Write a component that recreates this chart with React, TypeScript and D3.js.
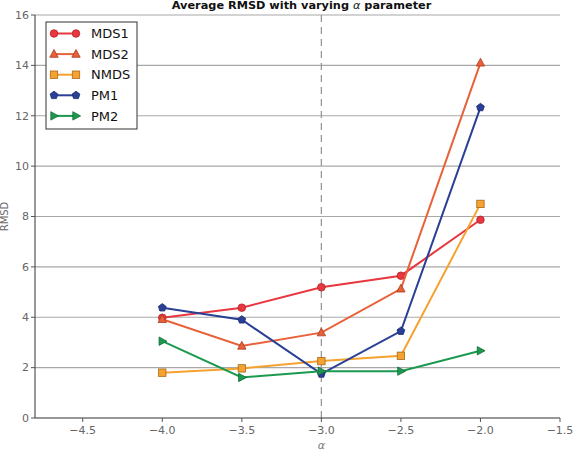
import React from "react";
import * as d3 from "d3";

const alphas = [-4.0, -3.5, -3.0, -2.5, -2.0];
const seriesNames = ["MDS1", "MDS2", "NMDS", "PM1", "PM2"];
const mds1 = [3.98, 4.38, 5.19, 5.65, 7.87];
const mds2 = [3.92, 2.86, 3.39, 5.13, 14.1];
const nmds = [1.8, 1.97, 2.26, 2.47, 8.5];
const pm1 = [4.38, 3.9, 1.75, 3.45, 12.33];
const pm2 = [3.05, 1.61, 1.86, 1.86, 2.67];
const xTicks = [-4.5, -4.0, -3.5, -3.0, -2.5, -2.0, -1.5];
const yTicks = [0, 2, 4, 6, 8, 10, 12, 14, 16];

const colors = ["#e8373f", "#e8613a", "#f5a231", "#2a3f96", "#1b9a4f"];
const edges = ["#b3222a", "#a83a1c", "#a8681a", "#1c2a6e", "#136b37"];
const markers = ["circle", "triangle", "square", "pentagon", "right"];

function Marker({ type, x, y, fill, stroke }: any) {
  const r = 3.8;
  if (type === "circle") return <circle cx={x} cy={y} r={r} fill={fill} stroke={stroke} strokeWidth={0.8} />;
  if (type === "square")
    return <rect x={x - 3.7} y={y - 3.7} width={7.4} height={7.4} fill={fill} stroke={stroke} strokeWidth={0.8} />;
  let pts: [number, number][] = [];
  if (type === "triangle") pts = [[0, -4.6], [4.2, 3.2], [-4.2, 3.2]];
  if (type === "right") pts = [[4.6, 0], [-3.2, -4.2], [-3.2, 4.2]];
  if (type === "pentagon")
    pts = d3.range(5).map((i) => {
      const a = -Math.PI / 2 + (i * 2 * Math.PI) / 5;
      return [4.1 * Math.cos(a), 4.1 * Math.sin(a)] as [number, number];
    });
  return (
    <polygon
      points={pts.map((p) => `${x + p[0]},${y + p[1]}`).join(" ")}
      fill={fill}
      stroke={stroke}
      strokeWidth={0.8}
    />
  );
}

export default function App() {
  const W = 574, H = 453;
  const left = 35, right = 560, top = 15, bottom = 418;
  const x = d3.scaleLinear().domain([-4.8, -1.5]).range([left, right]);
  const y = d3.scaleLinear().domain([0, 16]).range([bottom, top]);
  const data = [mds1, mds2, nmds, pm1, pm2];
  const line = d3
    .line<number>()
    .x((_, i) => x(alphas[i]))
    .y((d) => y(d));
  const font = "DejaVu Sans, sans-serif";
  return (
    <svg width={W} height={H} style={{ position: "absolute", left: 0, top: 0 }} fontFamily={font}>
      <rect width={W} height={H} fill="#fff" />
      {yTicks.filter((t) => t > 0).map((t) => (
        <line key={t} x1={left} x2={right} y1={y(t)} y2={y(t)} stroke="#a8a8a8" strokeWidth={1.2} />
      ))}
      <line x1={x(-3)} x2={x(-3)} y1={top} y2={bottom} stroke="#999" strokeWidth={1.3} strokeDasharray="7,5" />
      <line x1={left} x2={left} y1={top} y2={bottom} stroke="#333" strokeWidth={1} />
      <line x1={left} x2={right} y1={bottom} y2={bottom} stroke="#333" strokeWidth={1.2} />
      {yTicks.map((t) => (
        <g key={t}>
          <line x1={left - 4} x2={left} y1={y(t)} y2={y(t)} stroke="#555" />
          <text x={left - 6} y={y(t)} dy="0.35em" textAnchor="end" fontSize={11} fill="#666">
            {t}
          </text>
        </g>
      ))}
      {xTicks.map((t) => (
        <g key={t}>
          <line x1={x(t)} x2={x(t)} y1={bottom} y2={bottom + 4} stroke="#555" />
          <text x={x(t)} y={bottom + 16} textAnchor="middle" fontSize={11} fill="#666">
            {"\u2212" + Math.abs(t).toFixed(1)}
          </text>
        </g>
      ))}
      <text x={x(-3)} y={449} textAnchor="middle" fontSize={11} fill="#777" fontStyle="italic">
        α
      </text>
      <text transform={`translate(8,${(top + bottom) / 2}) rotate(-90)`} textAnchor="middle" fontSize={10} fill="#666">
        RMSD
      </text>
      <text x={(left + right) / 2 + 4} y={9} textAnchor="middle" fontSize={11.3} fontWeight="bold" fill="#111">
        Average RMSD with varying <tspan fontStyle="italic" fontWeight="normal">α</tspan> parameter
      </text>
      {data.map((vals, si) => (
        <g key={si}>
          <path d={line(vals) || ""} fill="none" stroke={colors[si]} strokeWidth={2} />
          {vals.map((v, i) => (
            <Marker key={i} type={markers[si]} x={x(alphas[i])} y={y(v)} fill={colors[si]} stroke={edges[si]} />
          ))}
        </g>
      ))}
      <g>
        <rect x={46} y={22} width={91} height={107} fill="#fff" stroke="#333" strokeWidth={1} />
        {seriesNames.map((n, i) => {
          const ly = 33.5 + i * 20.6;
          return (
            <g key={n}>
              <line x1={54} x2={76} y1={ly} y2={ly} stroke={colors[i]} strokeWidth={2} />
              <Marker type={markers[i]} x={54} y={ly} fill={colors[i]} stroke={edges[i]} />
              <Marker type={markers[i]} x={76} y={ly} fill={colors[i]} stroke={edges[i]} />
              <text x={91} y={ly} dy="0.36em" fontSize={13} fill="#111">
                {n}
              </text>
            </g>
          );
        })}
      </g>
    </svg>
  );
}
